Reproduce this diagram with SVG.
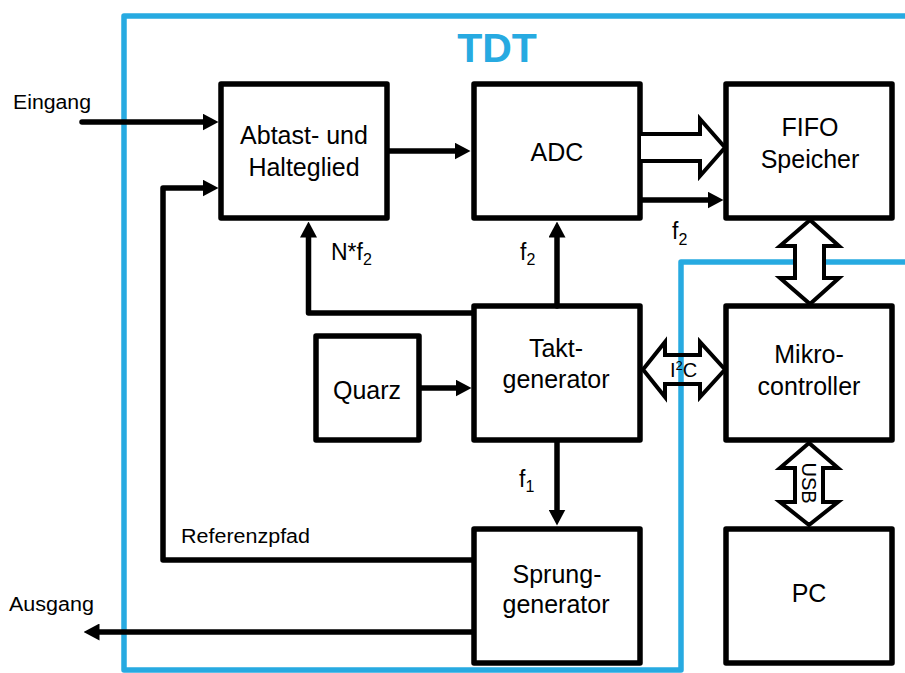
<svg xmlns="http://www.w3.org/2000/svg" width="905" height="673" viewBox="0 0 905 673">
<style>
  text { font-family: "Liberation Sans", Arial, sans-serif; fill: #000; }
  .box { fill: #fff; stroke: #000; stroke-width: 5.5; stroke-linejoin: round; }
  .nt { font-size: 25px; text-anchor: middle; }
  .lbl { font-size: 20px; }
  .fl { font-size: 23px; }
  .sub { font-size: 16px; }
  .wire { fill: none; stroke: #000; stroke-width: 5.5; stroke-linecap: round; stroke-linejoin: round; }
  .block { fill: #fff; stroke: #000; stroke-width: 4; stroke-linejoin: miter; }
  .frame { fill: none; stroke: #27AAE1; stroke-width: 5.5; stroke-linejoin: round; }
</style>
<defs>
  <marker id="ah" viewBox="0 0 16 17" refX="0.5" refY="8.5" markerWidth="16" markerHeight="17" markerUnits="userSpaceOnUse" orient="auto">
    <path d="M0,0 L16,8.5 L0,17 z" fill="#000"/>
  </marker>
</defs>

<g id="frame">
  <path class="frame" d="M905,16 H124 V670 H681 V262 H905"/>
  <text x="497" y="62" text-anchor="middle" style="font-size:41px;font-weight:bold;fill:#27AAE1">TDT</text>
</g>

<g id="abtast">
  <rect class="box" x="221" y="84" width="166" height="134"/>
  <text class="nt" x="304" y="144">Abtast- und</text>
  <text class="nt" x="304" y="176">Halteglied</text>
</g>
<g id="adc">
  <rect class="box" x="474" y="84" width="166" height="134"/>
  <text class="nt" x="557" y="161">ADC</text>
</g>
<g id="fifo">
  <rect class="box" x="726" y="84" width="166" height="134"/>
  <text class="nt" x="810" y="136">FIFO</text>
  <text class="nt" x="810" y="168">Speicher</text>
</g>
<g id="takt">
  <rect class="box" x="474" y="306" width="166" height="134"/>
  <text class="nt" x="556" y="357">Takt-</text>
  <text class="nt" x="556" y="388">generator</text>
</g>
<g id="quarz">
  <rect class="box" x="316" y="336" width="103" height="104"/>
  <text class="nt" x="367" y="399">Quarz</text>
</g>
<g id="mikro">
  <rect class="box" x="726" y="306" width="166" height="134"/>
  <text class="nt" x="809" y="363">Mikro-</text>
  <text class="nt" x="809" y="395">controller</text>
</g>
<g id="sprung">
  <rect class="box" x="474" y="529" width="166" height="134"/>
  <text class="nt" x="557" y="583">Sprung-</text>
  <text class="nt" x="556" y="613">generator</text>
</g>
<g id="pc">
  <rect class="box" x="726" y="529" width="166" height="134"/>
  <text class="nt" x="809" y="602">PC</text>
</g>

<g id="connectors">
  <path class="wire" d="M82,122 H203" marker-end="url(#ah)"/>
  <path class="wire" d="M389,151 H455" marker-end="url(#ah)"/>
  <path class="wire" d="M472,560 H163 V188 H203" marker-end="url(#ah)"/>
  <path class="wire" d="M472,313 H308.5 V237" marker-end="url(#ah)"/>
  <path class="wire" d="M557,306 V237" marker-end="url(#ah)"/>
  <path class="wire" d="M421,388 H456" marker-end="url(#ah)"/>
  <path class="wire" d="M557,442 V510" marker-end="url(#ah)"/>
  <path class="wire" d="M472,632 H99" marker-end="url(#ah)"/>
  <path class="wire" d="M641,200 H708" marker-end="url(#ah)"/>

  <path class="block" d="M641,134 H700 V119 L725,147.5 L700,176 V161 H641"/>
  <path class="block" d="M810,220 L780,246 H795 V278 H780 L810,304 L839,278 H824 V246 H839 Z"/>
  <path class="block" style="fill:none" d="M643,369.5 L665,342 V355 H700 V342 L725,369.5 L700,397 V384 H665 V397 Z"/>
  <path class="block" d="M809,443 L780,468 H795 V502 H780 L809,525 L838,502 H823 V468 H838 Z"/>

  <text style="font-size:20px" x="670" y="377">I<tspan style="font-size:13px" dy="-7">2</tspan><tspan dy="7">C</tspan></text>
  <text style="font-size:20px" text-anchor="middle" transform="translate(808.5,483) rotate(90)" x="0" y="7">USB</text>

  <text class="lbl" x="13" y="109" textLength="78" lengthAdjust="spacingAndGlyphs">Eingang</text>
  <text class="lbl" x="9" y="611" textLength="85" lengthAdjust="spacingAndGlyphs">Ausgang</text>
  <text class="lbl" x="181" y="543" textLength="129" lengthAdjust="spacingAndGlyphs">Referenzpfad</text>

  <text class="fl" x="331" y="260">N*f<tspan class="sub" dy="5">2</tspan></text>
  <text class="fl" x="520" y="260">f<tspan class="sub" dy="5">2</tspan></text>
  <text class="fl" x="672" y="239">f<tspan class="sub" dy="6">2</tspan></text>
  <text class="fl" x="519" y="487">f<tspan class="sub" dy="5">1</tspan></text>
</g>
</svg>
